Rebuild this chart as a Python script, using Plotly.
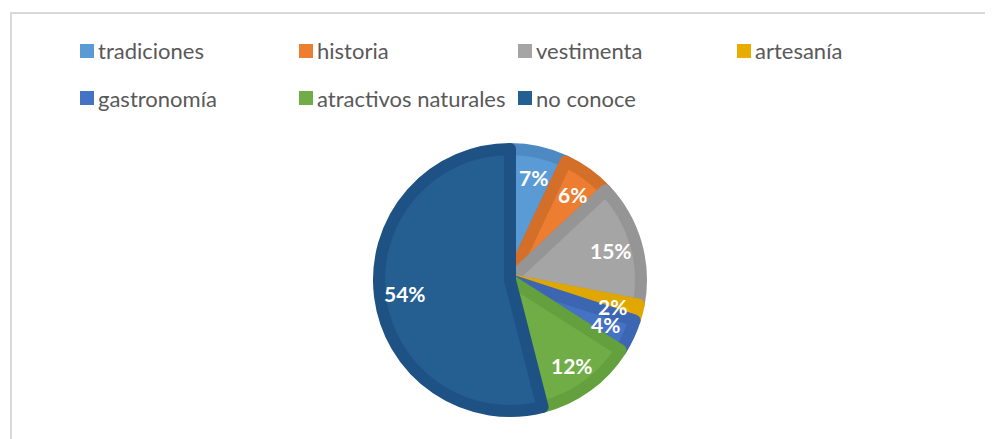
import math
import plotly.graph_objects as go

# datos del gráfico
categorias = ['tradiciones', 'historia', 'vestimenta', 'artesanía',
              'gastronomía', 'atractivos naturales', 'no conoce']
porcentajes = [7, 6, 15, 2, 4, 12, 54]
colores = ['#5B9BD5', '#ED7D31', '#A5A5A5', '#E8AD00', '#4472C4', '#70AD47', '#255E91']
bordes = ['#4D89C2', '#D46F2A', '#959595', '#E0A700', '#3C66B2', '#64A03E', '#1F5284']

# la página deja 8px de margen en el body
OFF = 8
W, H = 993 - OFF, 439 - OFF


def px(x):
    return (x - OFF) / W


def py(y):
    return (H - (y - OFF)) / H


cx, cy, R = 510, 280, 137
lw = 12
r = R - lw / 2

fig = go.Figure()
fig.add_trace(go.Pie(
    labels=categorias, values=porcentajes, sort=False, direction='clockwise',
    rotation=0, showlegend=False, textinfo='none',
    marker=dict(colors=colores, line=dict(color=bordes, width=lw)),
    domain=dict(x=[px(cx - r), px(cx + r)], y=[py(cy + r), py(cy - r)]),
    hoverinfo='label+percent'))

shapes = [dict(type='rect', xref='paper', yref='paper', x0=px(11), x1=1.02,
               y0=-0.05, y1=py(13), line=dict(color='#D9D9D9', width=2))]
annotations = []

# etiquetas de porcentaje en el ángulo medio de cada sector
total = sum(porcentajes)
acum = 0
for v in porcentajes:
    ang = (acum + v / 2) / total * 2 * math.pi
    acum += v
    lx = cx + 0.77 * R * math.sin(ang)
    ly = cy - 0.77 * R * math.cos(ang)
    annotations.append(dict(text='%d%%' % round(v / total * 100), xref='paper', yref='paper',
                            x=px(lx), y=py(ly), xanchor='center', yanchor='middle',
                            showarrow=False,
                            font=dict(family='Lato', size=21, color='white', weight='bold')))

# leyenda manual en dos filas
col_x = [80, 299, 518, 737]
row_y = [51, 98]
for i, (cat, col) in enumerate(zip(categorias, colores)):
    x = col_x[i % 4]
    y = row_y[i // 4]
    shapes.append(dict(type='rect', xref='paper', yref='paper',
                       x0=px(x), x1=px(x + 14), y0=py(y + 7), y1=py(y - 7),
                       fillcolor=col, line=dict(width=0)))
    annotations.append(dict(text=cat, xref='paper', yref='paper', x=px(x + 16),
                            y=py(y), xanchor='left', yanchor='middle', showarrow=False,
                            font=dict(family='Lato', size=22, color='#595959')))

fig.update_layout(width=W, height=H, margin=dict(l=0, r=0, t=0, b=0),
                  paper_bgcolor='white', plot_bgcolor='white',
                  shapes=shapes, annotations=annotations)

fig.write_html("out.html")
